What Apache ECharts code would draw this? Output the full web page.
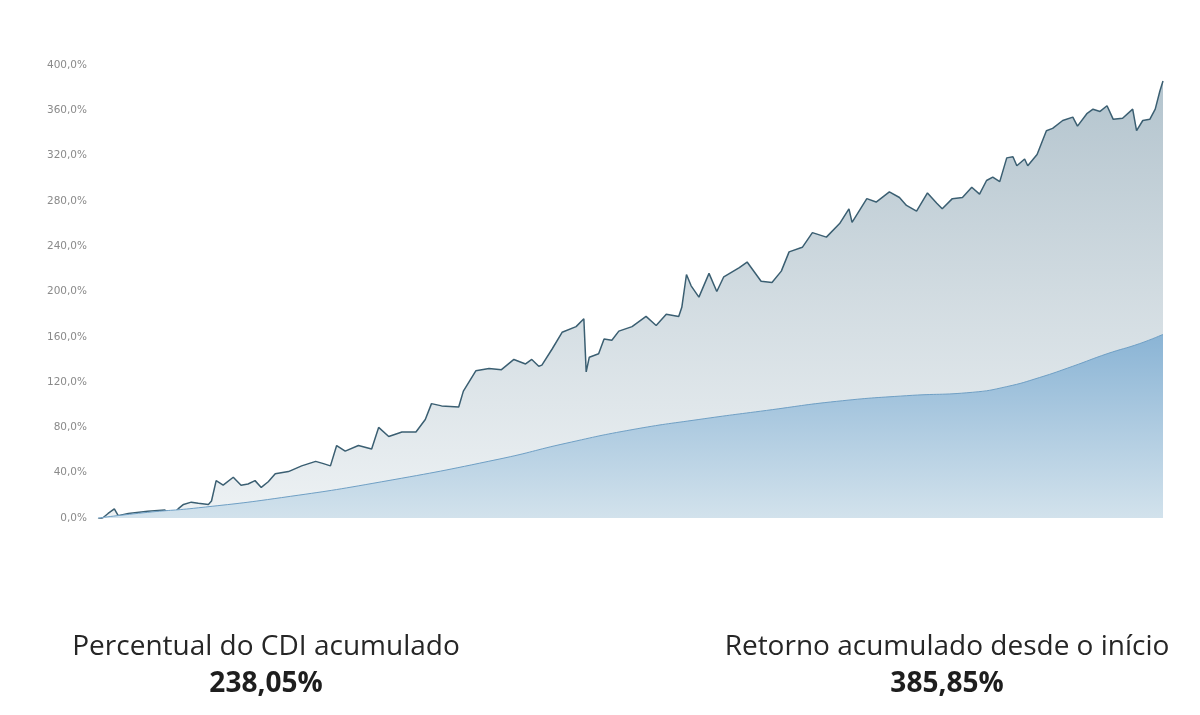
<!DOCTYPE html>
<html>
<head>
<meta charset="utf-8">
<script src="https://cdn.jsdelivr.net/npm/echarts@6/dist/echarts.min.js"></script>
<style>html,body{margin:0;padding:0;background:#fff;}#c{width:1200px;height:715px;}</style>
</head>
<body>
<div id="c"></div>
<script>
// months since start of the fund
const fundMonths = [0,0.6,1.3,2.1,2.6,3.9,6.4,8.6,9.4,10.3,11.0,12.0,12.9,14.2,14.6,15.2,16.1,17.4,18.4,19.3,20.2,21.0,21.9,22.8,24.5,26.2,28.0,29.0,29.9,30.7,31.8,33.5,35.2,36.1,37.4,39.1,40.9,42.1,42.9,44.2,46.4,47.0,48.6,50.3,51.9,53.5,55.0,55.8,56.7,57.1,58.4,59.7,61.5,62.5,62.8,63.2,64.4,65.1,66.1,67.0,68.7,70.5,71.8,73.1,74.7,75.1,75.7,76.3,77.3,78.6,79.6,80.5,82.5,83.5,85.3,86.7,87.9,88.9,90.6,91.9,93.7,95.4,96.6,97.0,98.9,100.1,101.8,103.1,104.0,105.3,106.7,107.9,108.6,109.9,111.2,112.4,113.4,114.3,115.1,116.0,116.9,117.7,118.2,119.2,119.6,120.8,122.0,122.8,124.1,125.4,126.0,127.2,128.0,128.9,129.8,130.6,131.8,133.1,133.6,134.4,135.3,136.0,136.6,137.0];
// accumulated fund return, %
const fundReturn = [-1,0,4,8,2,4,6,7,2,8,12,14,13,12,15,33,29,36,29,30,33,27,32,39,41,46,50,48,46,64,59,64,61,80,72,76,76,87,101,99,98,112,130,132,131,140,136,140,134,135,149,164,169,176,129,142,145,158,157,165,169,178,170,180,178,186,215,205,195,216,200,213,221,226,209,208,218,235,239,252,248,260,273,261,282,279,288,283,276,271,287,278,273,282,283,292,286,298,301,297,318,319,311,317,311,321,342,344,351,354,346,357,361,359,364,352,353,361,342,351,352,361,377,385.85];
// accumulated CDI, %
const cdiMonths = [0,6.4,12.9,23.6,36.5,51.6,60.2,68.7,77.3,86.0,95.0,104.0,112.5,116.9,121.1,125.4,129.8,134.0,137.0];
const cdiReturn = [0,5,9,18,32,52,66,78,87,95,103,108,111,116,124,134,145,154,162.1];
// y-axis ticks
const yMin = 0, yMax = 400, yStep = 40;
// summary texts
const summaryLabels = ['Percentual do CDI acumulado', 'Retorno acumulado desde o início'];
const summaryValues = ['238,05%', '385,85%'];

const fundData = fundMonths.map((m, i) => [m, fundReturn[i]]);
const cdiData = cdiMonths.map((m, i) => [m, cdiReturn[i]]);

const chart = echarts.init(document.getElementById('c'), null, {renderer: 'canvas'});
const textFont = '"Open Sans", Lato, sans-serif';
chart.setOption({
  animation: false,
  backgroundColor: '#ffffff',
  title: [
    {text: summaryLabels[0], left: 261, top: 628, textAlign: 'center',
     textStyle: {fontFamily: textFont, fontWeight: 'normal', fontSize: 28, color: '#262626'}},
    {text: summaryValues[0], left: 261, top: 665, textAlign: 'center',
     textStyle: {fontFamily: textFont, fontWeight: 'bold', fontSize: 28, color: '#1e1e1e'}},
    {text: summaryLabels[1], left: 942, top: 628, textAlign: 'center',
     textStyle: {fontFamily: textFont, fontWeight: 'normal', fontSize: 28, color: '#262626'}},
    {text: summaryValues[1], left: 942, top: 665, textAlign: 'center',
     textStyle: {fontFamily: textFont, fontWeight: 'bold', fontSize: 28, color: '#1e1e1e'}}
  ],
  grid: {left: 98, right: 37, top: 65, bottom: 197, containLabel: false},
  xAxis: {type: 'value', min: 0, max: 137, show: false},
  yAxis: {
    type: 'value', min: yMin, max: yMax, interval: yStep,
    axisLine: {show: false}, axisTick: {show: false}, splitLine: {show: false},
    axisLabel: {
      margin: 11, fontSize: 10.5, color: '#8a8a8a', fontFamily: '"DejaVu Sans", sans-serif',
      formatter: v => v.toFixed(1).replace('.', ',') + '%'
    }
  },
  series: [
    {
      name: 'Fundo', type: 'line', data: fundData, showSymbol: false, z: 2,
      lineStyle: {width: 1.5, color: '#3b5f72'},
      areaStyle: {
        origin: 'start',
        color: new echarts.graphic.LinearGradient(0, 0, 0, 1, [
          {offset: 0, color: '#93abb9'},
          {offset: 0.5, color: '#bfcdd5'},
          {offset: 1, color: '#e6ecef'}
        ])
      }
    },
    {
      name: 'CDI', type: 'line', data: cdiData, showSymbol: false, smooth: true, z: 3,
      lineStyle: {width: 1, color: '#6f9fc4'},
      areaStyle: {
        origin: 'start', opacity: 1,
        color: new echarts.graphic.LinearGradient(0, 0, 0, 1, [
          {offset: 0, color: '#8ab4d5'},
          {offset: 1, color: '#d2e2ec'}
        ])
      }
    }
  ]
});
</script>
</body>
</html>
